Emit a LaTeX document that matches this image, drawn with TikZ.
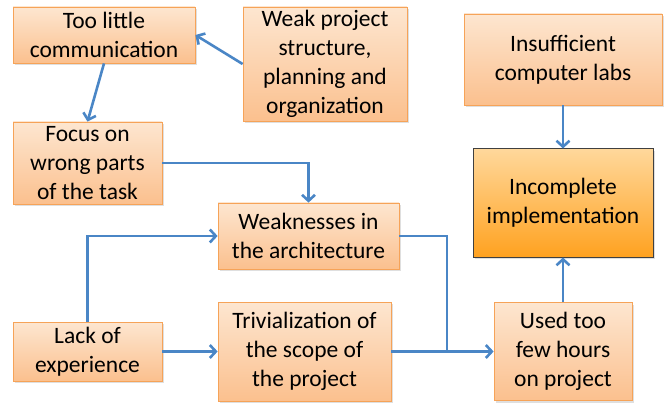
\documentclass[tikz,border=0pt]{standalone}
\usepackage{fontspec}
\setmainfont{Carlito}
\usetikzlibrary{arrows.meta, shadows}

\definecolor{boxtop}{RGB}{253,230,208}
\definecolor{boxbot}{RGB}{251,192,142}
\definecolor{boxline}{RGB}{246,163,88}
\definecolor{maintop}{RGB}{255,216,155}
\definecolor{mainbot}{RGB}{255,162,32}
\definecolor{linkblue}{RGB}{74,134,198}

\tikzset{
	cause/.style = {draw = boxline, line width = 0.8pt, top color = boxtop, bottom color = boxbot,
		align = center, inner sep = 0pt, font = \fontsize{23.5}{29}\selectfont,
		drop shadow = {shadow xshift = 2pt, shadow yshift = -2pt, opacity = 0.25}},
	effect/.style = {cause, draw = black!75, line width = 1pt, top color = maintop, bottom color = mainbot},
	link/.style = {linkblue, line width = 2.6pt, -{Straight Barb[length = 6pt, width = 13pt]}}
}

\begin{document}
\begin{tikzpicture}[x = 1pt, y = -1pt]
			\useasboundingbox (0,0) rectangle (671,403);

			\node[cause, minimum width = 182, minimum height = 56] (comm) at (104,35) {Too little\\communication};
			\node[cause, minimum width = 164, minimum height = 114] (weak) at (325,64) {Weak project\\structure,\\planning and\\organization};
			\node[cause, minimum width = 149, minimum height = 82] (focus) at (87.5,163) {Focus on\\wrong parts\\of the task};
			\node[cause, minimum width = 181, minimum height = 66] (arch) at (308.5,236) {Weaknesses in\\the architecture};
			\node[cause, minimum width = 149, minimum height = 59] (lack) at (87.5,351.5) {Lack of\\experience};
			\node[cause, minimum width = 173, minimum height = 99] (triv) at (304.5,351.5) {Trivialization of\\the scope of\\the project};
			\node[cause, minimum width = 138, minimum height = 98] (hours) at (563,351.5) {Used too\\few hours\\on project};
			\node[cause, minimum width = 198, minimum height = 91] (labs) at (563,59.5) {Insufficient\\computer labs};
			\node[effect, minimum width = 180, minimum height = 108] (impl) at (563,203) {Incomplete\\implementation};

			\coordinate (join) at (447,351.5);

			\draw[link] (weak.west) -- (comm.east);
			\draw[link] (comm.south) -- (focus.north);
			\draw[link] (focus.east) -| (arch.north);
			\draw[link] (lack.north) |- (arch.west);
			\draw[link] (lack.east) -- (triv.west);
			\draw[link] (triv.east) -- (hours.west);
			\draw[link, -] (arch.east) -| (join);
			\draw[link] (hours.north) -- (impl.south);
			\draw[link] (labs.south) -- (impl.north);
		\end{tikzpicture}
\end{document}
